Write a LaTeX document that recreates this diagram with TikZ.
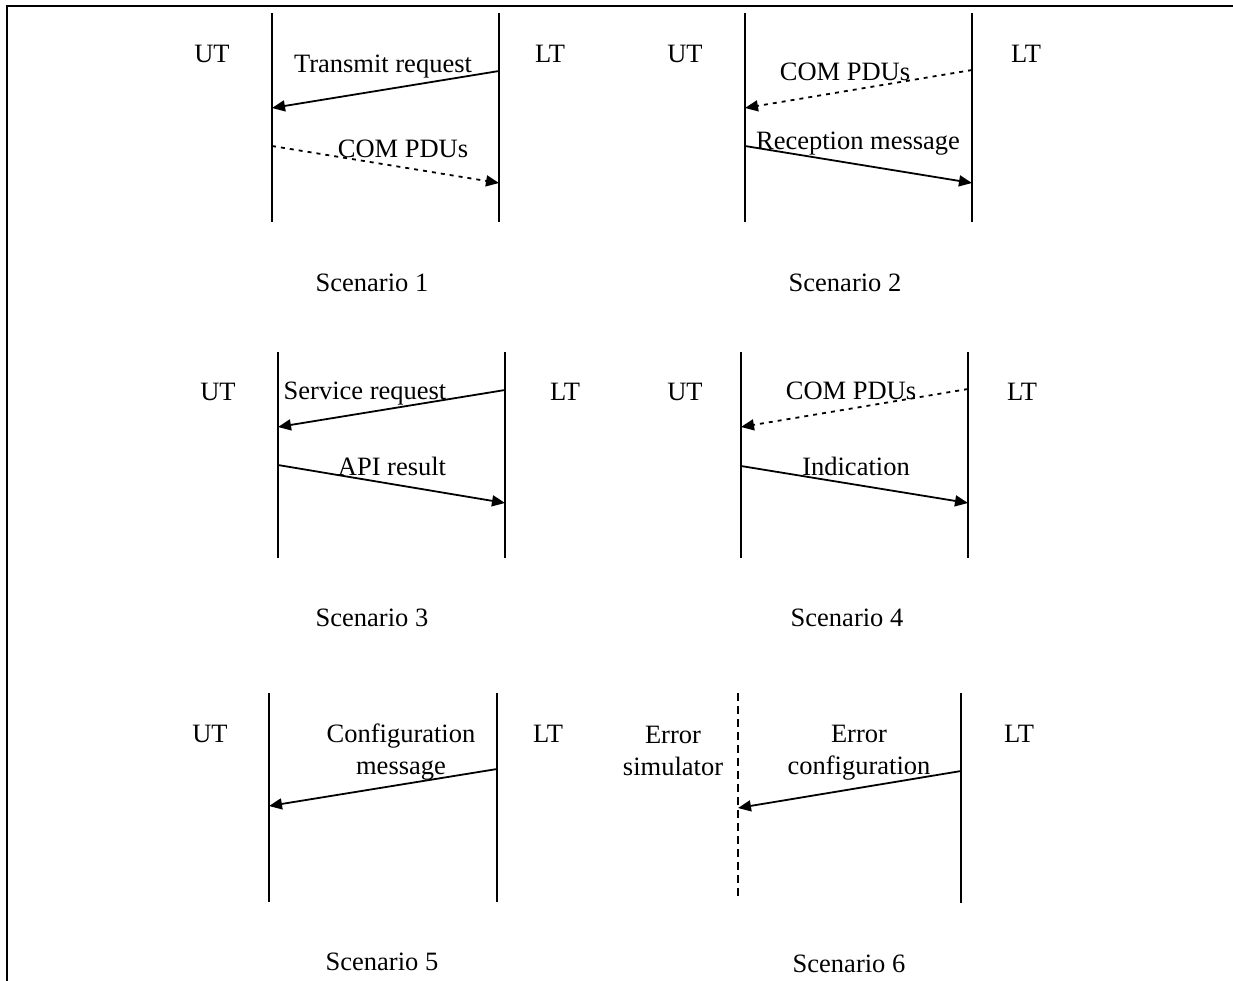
\documentclass[tikz,border=0pt]{standalone}
\usepackage{fontspec}
\setmainfont{Liberation Serif}
\usetikzlibrary{arrows.meta}
\begin{document}
\begin{tikzpicture}[x=1pt,y=-1pt,
  life/.style={line width=2.8pt},
  dlife/.style={line width=2.2pt,dash pattern=on 8pt off 5pt},
  msg/.style={line width=1.8pt,-{Triangle[length=13pt,width=11pt]}},
  dmsg/.style={msg,dash pattern=on 4pt off 5pt},
  lbl/.style={inner sep=0pt,anchor=base,font=\fontsize{26.5}{32}\selectfont,align=center},
  frame/.style={line width=2.8pt}
]
\clip (0,0) rectangle (1233,980);
\useasboundingbox (0,0) rectangle (1233,980);
% frame
\coordinate (fb) at (7,990);
\coordinate (fc) at (7,6);
\coordinate (fr) at (1245,6);
\draw[frame] (fb) -- (fc) -- (fr);

% ---------- Scenario 1
\coordinate (u1t) at (272,13); \coordinate (u1b) at (272,222);
\coordinate (l1t) at (499,13); \coordinate (l1b) at (499,222);
\draw[life] (u1t) -- (u1b);
\draw[life] (l1t) -- (l1b);
\node[lbl] (ut1) at (212,62) {UT};
\node[lbl] (lt1) at (550,62) {LT};
\coordinate (a1s) at (499,71); \coordinate (a1e) at (272,108);
\draw[msg] (a1s) -- (a1e);
\node[lbl] (m1a) at (383,72) {Transmit request};
\coordinate (b1s) at (272,146); \coordinate (b1e) at (499,183);
\draw[dmsg] (b1s) -- (b1e);
\node[lbl] (m1b) at (403,157) {COM PDUs};
\node[lbl] (sc1) at (372,291) {Scenario 1};

% ---------- Scenario 2
\coordinate (u2t) at (745,13); \coordinate (u2b) at (745,222);
\coordinate (l2t) at (972,13); \coordinate (l2b) at (972,222);
\draw[life] (u2t) -- (u2b);
\draw[life] (l2t) -- (l2b);
\node[lbl] (ut2) at (685,62) {UT};
\node[lbl] (lt2) at (1026,62) {LT};
\coordinate (a2s) at (972,70); \coordinate (a2e) at (745,108);
\draw[dmsg] (a2s) -- (a2e);
\node[lbl] (m2a) at (845,80) {COM PDUs};
\coordinate (b2s) at (745,146); \coordinate (b2e) at (972,183);
\draw[msg] (b2s) -- (b2e);
\node[lbl] (m2b) at (858,149) {Reception message};
\node[lbl] (sc2) at (845,291) {Scenario 2};

% ---------- Scenario 3
\coordinate (u3t) at (278,352); \coordinate (u3b) at (278,558);
\coordinate (l3t) at (505,352); \coordinate (l3b) at (505,558);
\draw[life] (u3t) -- (u3b);
\draw[life] (l3t) -- (l3b);
\node[lbl] (ut3) at (218,400) {UT};
\node[lbl] (lt3) at (565,400) {LT};
\coordinate (a3s) at (505,390); \coordinate (a3e) at (278,427);
\draw[msg] (a3s) -- (a3e);
\node[lbl] (m3a) at (365,399) {Service request};
\coordinate (b3s) at (278,465); \coordinate (b3e) at (505,503);
\draw[msg] (b3s) -- (b3e);
\node[lbl] (m3b) at (392,475) {API result};
\node[lbl] (sc3) at (372,626) {Scenario 3};

% ---------- Scenario 4
\coordinate (u4t) at (741,352); \coordinate (u4b) at (741,558);
\coordinate (l4t) at (968,352); \coordinate (l4b) at (968,558);
\draw[life] (u4t) -- (u4b);
\draw[life] (l4t) -- (l4b);
\node[lbl] (ut4) at (685,400) {UT};
\node[lbl] (lt4) at (1022,400) {LT};
\coordinate (a4s) at (968,389); \coordinate (a4e) at (741,427);
\draw[dmsg] (a4s) -- (a4e);
\node[lbl] (m4a) at (851,399) {COM PDUs};
\coordinate (b4s) at (741,466); \coordinate (b4e) at (968,503);
\draw[msg] (b4s) -- (b4e);
\node[lbl] (m4b) at (856,475) {Indication};
\node[lbl] (sc4) at (847,626) {Scenario 4};

% ---------- Scenario 5
\coordinate (u5t) at (269,693); \coordinate (u5b) at (269,902);
\coordinate (l5t) at (497,693); \coordinate (l5b) at (497,902);
\draw[life] (u5t) -- (u5b);
\draw[life] (l5t) -- (l5b);
\node[lbl] (ut5) at (210,742) {UT};
\node[lbl] (lt5) at (548,742) {LT};
\coordinate (a5s) at (497,769); \coordinate (a5e) at (269,806);
\draw[msg] (a5s) -- (a5e);
\node[lbl] (m5a) at (401,774) {Configuration\\message};
\node[lbl] (sc5) at (382,970) {Scenario 5};

% ---------- Scenario 6
\coordinate (u6t) at (738,693); \coordinate (u6b) at (738,900);
\coordinate (l6t) at (961,693); \coordinate (l6b) at (961,903);
\draw[dlife] (u6t) -- (u6b);
\draw[life] (l6t) -- (l6b);
\node[lbl] (es6) at (673,775) {Error\\simulator};
\node[lbl] (lt6) at (1019,742) {LT};
\coordinate (a6s) at (961,771); \coordinate (a6e) at (738,808);
\draw[msg] (a6s) -- (a6e);
\node[lbl] (m6a) at (859,774) {Error\\configuration};
\node[lbl] (sc6) at (849,972) {Scenario 6};
\end{tikzpicture}
\end{document}
